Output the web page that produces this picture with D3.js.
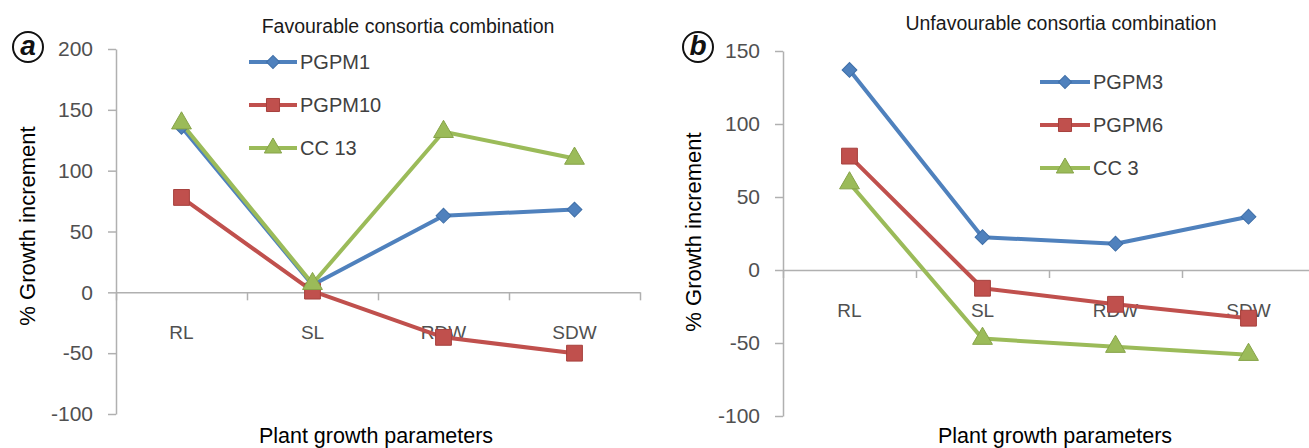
<!DOCTYPE html>
<meta charset="utf-8">
<script src="https://d3js.org/d3.v7.min.js"></script>
<style>
  body { margin: 0; background: #fff; }
  svg text { font-family: "Liberation Sans", Arial, sans-serif; }
</style>
<div id="chart"></div>
<script>
  // categories on the x axis (shared by both panels)
  const categories = ["RL", "SL", "RDW", "SDW"];

  // panel a: favourable consortia
  const favNames = ["PGPM1", "PGPM10", "CC 13"];
  const favPGPM1 = [136, 6, 63, 68];
  const favPGPM10 = [78, 1, -37, -50];
  const favCC13 = [139, 7, 132, 110];
  const favTicks = [-100, -50, 0, 50, 100, 150, 200];

  // panel b: unfavourable consortia
  const unfavNames = ["PGPM3", "PGPM6", "CC 3"];
  const unfavPGPM3 = [137, 22.5, 18, 36.5];
  const unfavPGPM6 = [78, -12.5, -23.5, -33];
  const unfavCC3 = [59.5, -47, -52.5, -58];
  const unfavTicks = [-100, -50, 0, 50, 100, 150];

  const colors = ["#4f81bd", "#c0504d", "#9bbb59"];
  const strokes = ["#3f6fa8", "#a6403d", "#86a348"];
  // diamond = square turned 45 degrees
  const shapes = [d3.symbolSquare, d3.symbolSquare, d3.symbolTriangle];
  const turns = [45, 0, 0];
  const sizes = [110, 250, 170];
  const legendSizes = [85, 170, 130];

  const svg = d3.select("#chart").append("svg")
      .attr("width", 1309)
      .attr("height", 448);

  function panel(o) {
    const g = svg.append("g");
    const x = d3.scaleBand().domain(categories).range([o.left, o.right]);
    const y = d3.scaleLinear().domain(d3.extent(o.ticks)).range([o.bottom, o.top]);

    // y axis
    const ya = g.append("g")
        .attr("transform", `translate(${o.left},0)`)
        .call(d3.axisLeft(y).tickValues(o.ticks).tickFormat(d => String(d))
          .tickSize(8).tickSizeOuter(0).tickPadding(15));
    ya.select(".domain").attr("stroke", "#b0b0b0").attr("stroke-width", 1.5);
    ya.selectAll(".tick line").attr("stroke", "#b0b0b0").attr("stroke-width", 1.5);
    ya.selectAll(".tick text").attr("font-size", 21).attr("fill", "#505050")
      .attr("font-family", "Liberation Sans, Arial, sans-serif");

    // x axis at zero, tick marks between categories
    const bounds = d3.scaleLinear().domain([0, categories.length]).range([o.left, o.right]);
    const xa = g.append("g")
        .attr("transform", `translate(0,${y(0)})`)
        .call(d3.axisBottom(bounds).ticks(categories.length).tickFormat("").tickSize(8).tickSizeOuter(0));
    xa.select(".domain").attr("stroke", "#b0b0b0").attr("stroke-width", 1.5);
    xa.selectAll(".tick line").attr("stroke", "#b0b0b0").attr("stroke-width", 1.5);

    g.append("g").selectAll("text")
      .data(categories)
      .join("text")
        .attr("x", d => x(d) + x.bandwidth() / 2)
        .attr("y", y(0) + 40)
        .attr("dy", "0.35em")
        .attr("text-anchor", "middle")
        .attr("font-size", 19)
        .attr("fill", "#505050")
        .text(d => d);

    // lines and markers
    const line = d3.line()
        .x((d, i) => x(categories[i]) + x.bandwidth() / 2)
        .y(d => y(d));

    o.series.forEach((s, k) => {
      g.append("path")
        .datum(s)
        .attr("fill", "none")
        .attr("stroke", colors[k])
        .attr("stroke-width", 4)
        .attr("stroke-linejoin", "round")
        .attr("d", line);
    });
    o.series.forEach((s, k) => {
      g.append("g").selectAll("path")
        .data(s)
        .join("path")
          .attr("transform", (d, i) =>
            `translate(${x(categories[i]) + x.bandwidth() / 2},${y(d)}) rotate(${turns[k]})`)
          .attr("d", d3.symbol().type(shapes[k]).size(sizes[k]))
          .attr("fill", colors[k])
          .attr("stroke", strokes[k])
          .attr("stroke-width", 1);
    });

    // legend
    o.names.forEach((n, k) => {
      const ly = o.legendY[k];
      g.append("line")
        .attr("x1", o.legendX).attr("x2", o.legendX + o.legendLen)
        .attr("y1", ly).attr("y2", ly)
        .attr("stroke", colors[k]).attr("stroke-width", 4);
      g.append("path")
        .attr("transform", `translate(${o.legendX + o.legendLen / 2},${ly}) rotate(${turns[k]})`)
        .attr("d", d3.symbol().type(shapes[k]).size(legendSizes[k]))
        .attr("fill", colors[k])
        .attr("stroke", strokes[k]);
      g.append("text")
        .attr("x", o.legendX + o.legendLen + 3)
        .attr("y", ly)
        .attr("dy", "0.36em")
        .attr("font-size", 20)
        .attr("fill", "#404040")
        .text(n);
    });

    // titles
    g.append("text")
      .attr("x", o.titleX).attr("y", o.titleY)
      .attr("text-anchor", "middle")
      .attr("font-size", 19.5)
      .attr("fill", "#1a1a1a")
      .text(o.title);

    g.append("text")
      .attr("transform", `translate(${o.yLabelX},${o.yLabelY}) rotate(-90)`)
      .attr("text-anchor", "middle")
      .attr("dy", "0.35em")
      .attr("font-size", 22)
      .attr("fill", "#000")
      .text("% Growth increment");

    g.append("text")
      .attr("x", o.xLabelX).attr("y", 443)
      .attr("text-anchor", "middle")
      .attr("font-size", 21.5)
      .attr("fill", "#000")
      .text("Plant growth parameters");

    // panel letter
    g.append("circle")
      .attr("cx", o.letterX).attr("cy", 47).attr("r", 15)
      .attr("fill", "#fff").attr("stroke", "#111").attr("stroke-width", 2);
    g.append("text")
      .attr("x", o.letterX).attr("y", 47)
      .attr("dy", "0.3em")
      .attr("text-anchor", "middle")
      .attr("font-family", "Liberation Serif, DejaVu Serif, serif")
      .attr("font-style", "italic")
      .attr("font-weight", "bold")
      .attr("font-size", 28)
      .attr("fill", "#111")
      .text(o.letter);
  }

  panel({
    left: 116, right: 640, top: 49, bottom: 414,
    ticks: favTicks,
    series: [favPGPM1, favPGPM10, favCC13],
    names: favNames,
    legendX: 249, legendLen: 48, legendY: [62, 105, 148],
    title: "Favourable consortia combination", titleX: 408, titleY: 33,
    yLabelX: 27, yLabelY: 226, xLabelX: 376,
    letter: "a", letterX: 28
  });

  panel({
    left: 783, right: 1315, top: 51, bottom: 416,
    ticks: unfavTicks,
    series: [unfavPGPM3, unfavPGPM6, unfavCC3],
    names: unfavNames,
    legendX: 1040, legendLen: 50, legendY: [82, 125, 168],
    title: "Unfavourable consortia combination", titleX: 1061, titleY: 30,
    yLabelX: 693, yLabelY: 232, xLabelX: 1055,
    letter: "b", letterX: 698
  });
</script>
